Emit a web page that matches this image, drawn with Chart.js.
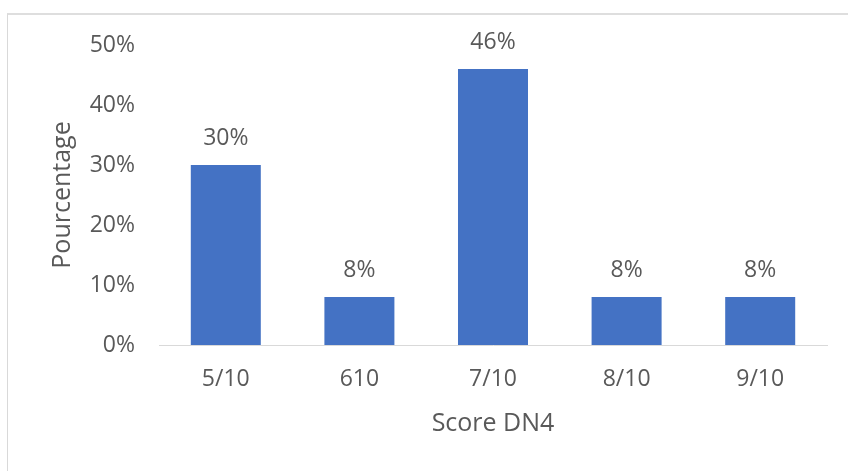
<!DOCTYPE html>
<html>
<head>
<meta charset="utf-8">
<script src="https://cdn.jsdelivr.net/npm/chart.js@4"></script>
<style>
  html, body { margin: 0; padding: 0; background: #ffffff; overflow: hidden; }
  #wrap { position: relative; width: 848px; height: 471px; }
  #frame {
    position: absolute; left: 7px; top: 13px; width: 900px; height: 500px;
    border-top: 2px solid #dedede; border-left: 1px solid #d9d9d9;
    box-sizing: border-box; pointer-events: none;
  }
  canvas { position: absolute; left: 0; top: 0; }
</style>
</head>
<body>
<div id="wrap">
  <div id="frame"></div>
  <canvas id="chart" width="848" height="471"></canvas>
</div>
<script>
// DN4 score distribution
const categories = ['5/10', '610', '7/10', '8/10', '9/10'];
const percentages = [30, 8, 46, 8, 8];
const yTicks = [0, 10, 20, 30, 40, 50];

const TEXT = '#595959';
const FONT = '"Open Sans", "DejaVu Sans", sans-serif';

// Draws the percentage above each bar
const valueLabels = {
  id: 'valueLabels',
  afterDatasetsDraw(chart) {
    const ctx = chart.ctx;
    const meta = chart.getDatasetMeta(0);
    const values = chart.data.datasets[0].data;
    ctx.save();
    ctx.font = '23px ' + FONT;
    ctx.fillStyle = TEXT;
    ctx.textAlign = 'center';
    ctx.textBaseline = 'alphabetic';
    meta.data.forEach((bar, i) => {
      ctx.fillText(Math.round(values[i]) + '%', bar.x, bar.y - 20);
    });
    ctx.restore();
  }
};

new Chart(document.getElementById('chart'), {
  type: 'bar',
  data: {
    labels: categories,
    datasets: [{
      data: percentages,
      backgroundColor: '#4472C4',
      borderWidth: 0,
      barPercentage: 0.524,
      categoryPercentage: 1
    }]
  },
  options: {
    responsive: false,
    animation: false,
    devicePixelRatio: 1,
    layout: { padding: { left: 0, right: 21, top: 45, bottom: 0 } },
    plugins: { legend: { display: false }, tooltip: { enabled: false } },
    scales: {
      x: {
        grid: { display: false, drawTicks: false },
        border: { display: true, color: '#d9d9d9', width: 1 },
        ticks: { color: TEXT, font: { family: FONT, size: 23 }, padding: 21 },
        title: {
          display: true, text: 'Score DN4', color: TEXT,
          font: { family: FONT, size: 25 }, padding: { top: 0, bottom: 32 }
        },
        afterFit(scale) { scale.height = 126; }
      },
      y: {
        min: 0, max: 50,
        afterBuildTicks(scale) { scale.ticks = yTicks.map(v => ({ value: v })); },
        grid: { display: false, drawTicks: false },
        border: { display: false },
        ticks: {
          color: TEXT, font: { family: FONT, size: 23 }, padding: 24,
          callback: v => v + '%'
        },
        title: {
          display: true, text: 'Pourcentage', color: TEXT,
          font: { family: FONT, size: 25 }, padding: { top: 48, bottom: 0 }
        },
        afterFit(scale) { scale.width = 159; }
      }
    }
  },
  plugins: [valueLabels]
});
</script>
</body>
</html>
